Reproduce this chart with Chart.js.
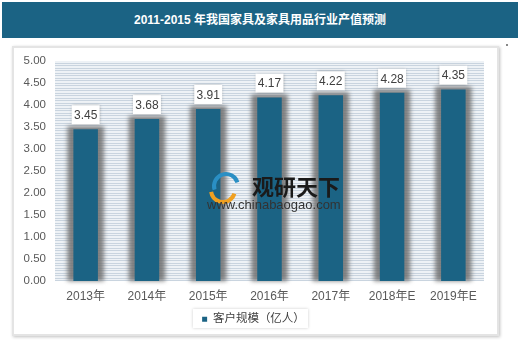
<!DOCTYPE html>
<html>
<head>
<meta charset="utf-8">
<script src="https://cdn.jsdelivr.net/npm/chart.js@4/dist/chart.umd.min.js"></script>
<style>
body{margin:0;background:#fff;width:520px;height:342px;position:relative;overflow:hidden;font-family:Arial,"Liberation Sans","Noto Sans CJK SC",sans-serif}
#head{position:absolute;left:2px;top:2px;width:516px;height:36px;background:#1b6384;color:#fff;font-weight:bold;font-size:12px;line-height:36px;text-align:center}
#panel{position:absolute;left:12px;top:46px;width:483px;height:286px;border:2px solid #e4e4e4;box-shadow:1px 1px 3px rgba(0,0,0,.25);background:#fff}
#legbox{position:absolute;left:193px;top:309px;width:115px;height:19px;background:#fff;box-shadow:0 0 3px rgba(0,0,0,.2)}
#dot{position:absolute;left:506px;top:44px;width:2px;height:2px;background:#888}
canvas{position:absolute;left:0;top:0}
</style>
</head>
<body>
<div id="head">2011-2015 年我国家具及家具用品行业产值预测</div>
<div id="panel"></div>
<div id="legbox"></div>
<div id="dot"></div>
<canvas id="c" width="520" height="342"></canvas>
<script>
var years = ['2013年', '2014年', '2015年', '2016年', '2017年', '2018年E', '2019年E'];
var values = [3.45, 3.68, 3.91, 4.17, 4.22, 4.28, 4.35];
var seriesName = '客户规模（亿人）';
var yMin = 0, yMax = 5, yStep = 0.5;

var barColor = '#1b6384';
var font = 'Arial, "Liberation Sans", "Noto Sans CJK SC", sans-serif';

// striped plot background
var stripes = {
    id: 'stripes',
    beforeDatasetsDraw: function (chart) {
        var a = chart.chartArea, ctx = chart.ctx;
        ctx.save();
        ctx.fillStyle = '#eef2f6';
        ctx.fillRect(a.left, a.top, a.right - a.left, a.bottom - a.top);
        ctx.fillStyle = '#c9d4df';
        for (var y = a.bottom - 1; y >= a.top; y -= 2.5) {
            ctx.fillRect(a.left, Math.round(y), a.right - a.left, 1);
        }
        ctx.restore();
    }
};

// grey shadow band behind each bar
var barShadow = {
    id: 'barShadow',
    beforeDatasetDraw: function (chart) {
        var ctx = chart.ctx;
        var meta = chart.getDatasetMeta(0);
        ctx.save();
        ctx.filter = 'blur(2px)';
        ctx.fillStyle = 'rgba(110,110,110,0.85)';
        meta.data.forEach(function (bar) {
            var w = bar.width + 12;
            ctx.fillRect(bar.x - w / 2, bar.y - 3, w, bar.base - bar.y + 3);
        });
        ctx.restore();
    }
};

// boxed value labels above bars
var valueBoxes = {
    id: 'valueBoxes',
    afterDatasetsDraw: function (chart) {
        var ctx = chart.ctx;
        var meta = chart.getDatasetMeta(0);
        ctx.save();
        ctx.font = '12px ' + font;
        ctx.textAlign = 'center';
        ctx.textBaseline = 'middle';
        meta.data.forEach(function (bar, i) {
            var txt = values[i].toFixed(2);
            var w = 28, h = 19;
            var x = bar.x - w / 2, y = bar.y - 5 - h;
            ctx.save();
            ctx.shadowColor = 'rgba(0,0,0,0.35)';
            ctx.shadowBlur = 3;
            ctx.fillStyle = '#fff';
            ctx.fillRect(x, y, w, h);
            ctx.restore();
            ctx.fillStyle = '#404040';
            ctx.fillText(txt, bar.x, y + h / 2 + 1);
        });
        ctx.restore();
    }
};

// site watermark in the middle
var watermark = {
    id: 'watermark',
    afterDraw: function (chart) {
        var ctx = chart.ctx;
        ctx.save();
        ctx.lineWidth = 4;
        ctx.strokeStyle = '#2a8fc4';
        ctx.beginPath();
        ctx.arc(226, 186, 12, Math.PI * 0.9, Math.PI * 1.9);
        ctx.stroke();
        ctx.strokeStyle = '#f0a020';
        ctx.beginPath();
        ctx.arc(223, 190, 12, Math.PI * 0.1, Math.PI * 0.95);
        ctx.stroke();
        ctx.fillStyle = '#1a1a1a';
        ctx.font = 'bold 22px "Noto Sans CJK SC", sans-serif';
        ctx.textBaseline = 'middle';
        ctx.fillText('观研天下', 252, 187);
        ctx.fillStyle = '#333';
        ctx.font = '13px ' + font;
        ctx.fillText('www.chinabaogao.com', 207, 205);
        ctx.restore();
    }
};

new Chart(document.getElementById('c').getContext('2d'), {
    type: 'bar',
    data: {
        labels: years,
        datasets: [{
            label: seriesName,
            data: values,
            backgroundColor: barColor,
            categoryPercentage: 0.4,
            barPercentage: 1
        }]
    },
    options: {
        responsive: false,
        animation: false,
        layout: { padding: { left: 23, right: 36, top: 61, bottom: 7 } },
        plugins: {
            tooltip: { enabled: false },
            legend: {
                position: 'bottom',
                labels: {
                    boxWidth: 5, boxHeight: 5, padding: 2,
                    color: '#404040',
                    font: { size: 11.5, family: font }
                }
            }
        },
        scales: {
            x: {
                grid: { display: false, drawTicks: false },
                border: { display: false },
                ticks: { color: '#595959', font: { size: 12, family: font }, padding: 8 }
            },
            y: {
                min: yMin, max: yMax,
                grid: { display: false, drawTicks: false },
                border: { display: false },
                afterFit: function (s) { s.width = 32; },
                ticks: {
                    stepSize: yStep,
                    color: '#595959',
                    font: { size: 11.5, family: font },
                    padding: 9,
                    callback: function (v) { return v.toFixed(2); }
                }
            }
        }
    },
    plugins: [stripes, barShadow, valueBoxes, watermark]
});
</script>
</body>
</html>
